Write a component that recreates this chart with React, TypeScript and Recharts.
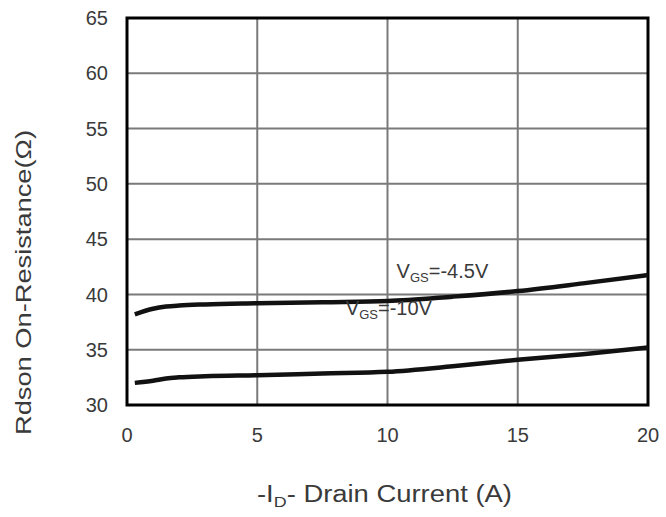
import React from 'react';
import { LineChart, Line, XAxis, YAxis, CartesianGrid, ReferenceArea, ReferenceDot, Label } from 'recharts';

// -ID drain current (A)
const current = [0.3, 1, 1.5, 2, 3, 5, 7.5, 10, 12.5, 15, 17.5, 20];
// Rdson at VGS = -4.5V
const rdson45 = [38.2, 38.7, 38.9, 39.0, 39.1, 39.2, 39.3, 39.4, 39.8, 40.3, 41.0, 41.75];
// Rdson at VGS = -10V
const rdson10 = [32.0, 32.2, 32.4, 32.5, 32.6, 32.7, 32.85, 33.0, 33.5, 34.1, 34.6, 35.2];

const xTicks = [0, 5, 10, 15, 20];
const yTicks = [30, 35, 40, 45, 50, 55, 60, 65];

const data = current.map((id, i) => ({ id, r45: rdson45[i], r10: rdson10[i] }));

const FONT = 'Liberation Sans, Arial, sans-serif';
const TEXT = '#3a3a3a';

function VgsTag({ viewBox, volts }: any) {
  const { x, y } = viewBox;
  return (
    <text x={x} y={y} fill={TEXT} fontFamily={FONT} fontSize={20}>
      V
      <tspan fontSize={13} dy={4}>GS</tspan>
      <tspan dy={-4}>{'=-' + volts + 'V'}</tspan>
    </text>
  );
}

export default function App() {
  return (
    <div style={{ position: 'absolute', left: 0, top: 0, width: 666, height: 517, background: '#fff' }}>
      <LineChart width={666} height={517} data={data} margin={{ top: 18, right: 18, bottom: 82, left: 0 }}>
        <CartesianGrid stroke="#7a7a7a" strokeWidth={2} />
        <XAxis
          dataKey="id"
          type="number"
          domain={[0, 20]}
          ticks={xTicks}
          axisLine={false}
          tickLine={false}
          tickSize={0}
          tickMargin={23}
          tick={{ fill: TEXT, fontSize: 20, fontFamily: FONT }}
        >
          <Label
            content={() => (
              <text x={257} y={502} fill={TEXT} fontFamily={FONT} fontSize={23} textLength={255} lengthAdjust="spacingAndGlyphs">
                -I<tspan fontSize={15} dy={5}>D</tspan>
                <tspan dy={-5}>- Drain Current (A)</tspan>
              </text>
            )}
          />
        </XAxis>
        <YAxis
          type="number"
          domain={[30, 65]}
          ticks={yTicks}
          width={127}
          axisLine={false}
          tickLine={false}
          tickSize={0}
          tickMargin={19}
          tick={{ fill: TEXT, fontSize: 20, fontFamily: FONT }}
        >
          <Label
            content={() => (
              <text x={31} y={435} transform="rotate(-90 31 435)" fill={TEXT} fontFamily={FONT} fontSize={22} textLength={305} lengthAdjust="spacingAndGlyphs">
                Rdson On-Resistance(Ω)
              </text>
            )}
          />
        </YAxis>
        <ReferenceArea x1={0} x2={20} y1={30} y2={65} fill="none" stroke="#000" strokeWidth={3} />
        <Line dataKey="r45" type="monotone" stroke="#111" strokeWidth={4.5} dot={false} isAnimationActive={false} />
        <Line dataKey="r10" type="monotone" stroke="#111" strokeWidth={4.5} dot={false} isAnimationActive={false} />
        <ReferenceDot x={10.35} y={41.5} r={0} fill="none" stroke="none" label={{ content: (p: any) => <VgsTag {...p} volts="4.5" /> }} />
        <ReferenceDot x={8.4} y={38.1} r={0} fill="none" stroke="none" label={{ content: (p: any) => <VgsTag {...p} volts="10" /> }} />
      </LineChart>
    </div>
  );
}
